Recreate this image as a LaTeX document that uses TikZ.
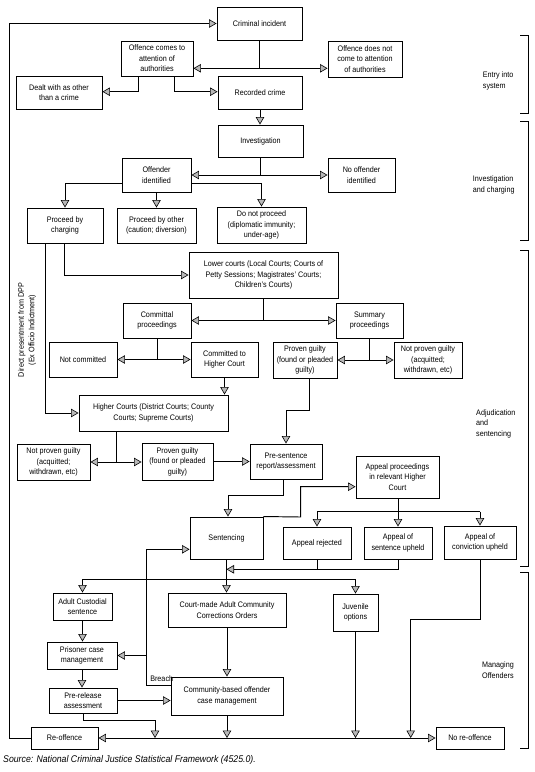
\documentclass[tikz,border=0pt]{standalone}
\usepackage{fontspec}
\setmainfont{Liberation Sans}[FakeStretch=0.9]
\usetikzlibrary{arrows.meta}
\newcommand\fsz{\fontsize{8}{10.5}\selectfont}
\begin{document}
\begin{tikzpicture}[x=1pt,y=-1pt,
  >={Triangle[length=7.5pt,width=8.5pt,fill=black!28,line width=0.6pt]},
  box/.style={draw,line width=0.95pt,align=center,inner sep=1pt,font=\fsz,text=black},
  ln/.style={line width=0.95pt},
  arr/.style={ln,->},
  lab/.style={align=left,font=\fsz,inner sep=0pt,text=black},
  brk/.style={line width=0.95pt}]
\useasboundingbox (0,0) rectangle (535,772);
% nodes
\node[box,minimum width=85pt,minimum height=33pt] (crime) at (259.5,23.5) {Criminal incident};
\node[box,minimum width=72pt,minimum height=35pt] (attn) at (157,58.5) {Offence comes to\\attention of\\authorities};
\node[box,minimum width=74pt,minimum height=36pt] (noattn) at (365,59) {Offence does not\\come to attention\\of authorities};
\node[box,minimum width=86pt,minimum height=33pt] (dealt) at (59,92.5) {Dealt with as other\\than a crime};
\node[box,minimum width=84pt,minimum height=33pt] (recorded) at (260,92.5) {Recorded crime};
\node[box,minimum width=85pt,minimum height=32pt] (invest) at (260.5,141) {Investigation};
\node[box,minimum width=69pt,minimum height=34pt] (ident) at (156.5,175) {Offender\\identified};
\node[box,minimum width=67pt,minimum height=34pt] (noident) at (361.5,175) {No offender\\identified};
\node[box,minimum width=76pt,minimum height=35pt] (charge) at (65,225.5) {Proceed by\\charging};
\node[box,minimum width=79pt,minimum height=35pt] (other) at (156.5,225.5) {Proceed by other\\(caution; diversion)};
\node[box,minimum width=89pt,minimum height=36pt] (notproc) at (261.5,225) {Do not proceed\\(diplomatic immunity;\\under-age)};
\node[box,minimum width=149pt,minimum height=46pt] (lower) at (263.5,275) {Lower courts (Local Courts; Courts of\\Petty Sessions; Magistrates' Courts;\\Children's Courts)};
\node[box,minimum width=68pt,minimum height=35pt] (committal) at (157,320.5) {Committal\\proceedings};
\node[box,minimum width=67pt,minimum height=35pt] (summary) at (369.5,320.5) {Summary\\proceedings};
\node[box,minimum width=68pt,minimum height=35pt] (notcomm) at (83,359.5) {Not committed};
\node[box,minimum width=67pt,minimum height=35pt] (comm) at (224.5,359.5) {Committed to\\Higher Court};
\node[box,minimum width=64pt,minimum height=36pt] (provenL) at (305,360) {Proven guilty\\(found or pleaded\\guilty)};
\node[box,minimum width=68pt,minimum height=36pt] (notprovenL) at (428,360) {Not proven guilty\\(acquitted;\\withdrawn, etc)};
\node[box,minimum width=149pt,minimum height=36pt] (higher) at (153.5,413) {Higher Courts (District Courts; County\\Courts; Supreme Courts)};
\node[box,minimum width=73pt,minimum height=36pt] (notprovenH) at (53.5,462) {Not proven guilty\\(acquitted;\\withdrawn, etc)};
\node[box,minimum width=71pt,minimum height=37pt] (provenH) at (177.5,461.5) {Proven guilty\\(found or pleaded\\guilty)};
\node[box,minimum width=72pt,minimum height=35pt] (present) at (286,461.5) {Pre-sentence\\report/assessment};
\node[box,minimum width=83pt,minimum height=42pt] (appeal) at (397.5,477) {Appeal proceedings\\in relevant Higher\\Court};
\node[box,minimum width=73pt,minimum height=42pt] (sentencing) at (226.5,538) {Sentencing};
\node[box,minimum width=68pt,minimum height=32pt] (rejected) at (317,543) {Appeal rejected};
\node[box,minimum width=68pt,minimum height=32pt] (sentup) at (398,543) {Appeal of\\sentence upheld};
\node[box,minimum width=72pt,minimum height=33pt] (convup) at (480,542.5) {Appeal of\\conviction upheld};
\node[box,minimum width=59pt,minimum height=27pt] (custodial) at (82.5,606.5) {Adult Custodial\\sentence};
\node[box,minimum width=118pt,minimum height=34pt] (cco) at (227,610) {Court-made Adult Community\\Corrections Orders};
\node[box,minimum width=45pt,minimum height=37pt] (juvenile) at (355.5,612.5) {Juvenile\\options};
\node[box,minimum width=70pt,minimum height=27pt] (prisoner) at (82,655.5) {Prisoner case\\management};
\node[box,minimum width=68pt,minimum height=25pt] (prerelease) at (83,700.5) {Pre-release\\assessment};
\node[box,minimum width=112pt,minimum height=38pt] (community) at (227,696) {Community-based offender\\case management};
\node[box,minimum width=67pt,minimum height=22pt] (reoff) at (64.5,738) {Re-offence};
\node[box,minimum width=68pt,minimum height=22pt] (noreoff) at (470,738) {No re-offence};
% side labels
\node[lab,rotate=90,align=center] (dpp) at (27,330) {Direct presentment from DPP\\(Ex Officio Indictment)};
\node[lab,anchor=west] (entry) at (482.7,81) {Entry into\\system};
\node[lab,anchor=west] (invlab) at (472.7,185) {Investigation\\and charging};
\node[lab,anchor=west] (adjlab) at (476,423.5) {Adjudication\\and\\sentencing};
\node[lab,anchor=west] (manlab) at (482,670) {Managing\\Offenders};
\node[lab,anchor=west,font=\fontsize{9.7}{11}\selectfont\itshape] (source) at (3,760) {Source: National Criminal Justice Statistical Framework (4525.0).};
% brackets
\draw[brk] (520,35) -- (528,35) -- (528,113.3) -- (520,113.3);
\draw[brk] (520,121) -- (528,121) -- (528,240) -- (520,240);
\draw[brk] (520,250) -- (528,250) -- (528,566.7) -- (520,566.7);
\draw[brk] (520,572.7) -- (528,572.7) -- (528,748.3) -- (520,748.3);
% connectors
\coordinate (j1) at (259.5,68.3);
\draw[ln] (crime.south) -- (j1);
\draw[arr] (j1) -- (j1 -| attn.east);
\draw[arr] (j1) -- (j1 -| noattn.west);
\coordinate (a1) at (138.3,91.7);
\draw[arr] (attn.south -| a1) -- (a1) -- (dealt.east |- a1);
\coordinate (a2) at (174,91.7);
\draw[arr] (attn.south -| a2) -- (a2) -- (recorded.west |- a2);
\draw[arr] (recorded.south) -- (recorded.south |- invest.north);
\coordinate (j2) at (260.5,175);
\draw[ln] (invest.south) -- (j2);
\draw[arr] (j2) -- (j2 -| ident.east);
\draw[arr] (j2) -- (j2 -| noident.west);
\coordinate (b1) at (65,183.3);
\coordinate (b2) at (261.5,183.3);
\draw[arr] (ident.west |- b1) -- (b1) -- (charge.north);
\draw[arr] (ident.east |- b2) -- (b2) -- (notproc.north);
\draw[arr] (ident.south) -- (other.north);
\coordinate (c1) at (45.7,413);
\coordinate (c2) at (64.3,275);
\draw[arr] (charge.south -| c1) -- (c1) -- (higher.west |- c1);
\draw[arr] (charge.south -| c2) -- (c2) -- (lower.west |- c2);
\coordinate (j3) at (263.5,320.5);
\draw[ln] (lower.south) -- (j3);
\draw[arr] (j3) -- (j3 -| committal.east);
\draw[arr] (j3) -- (j3 -| summary.west);
\coordinate (j4) at (157,359.5);
\draw[ln] (committal.south) -- (j4);
\draw[arr] (j4) -- (j4 -| notcomm.east);
\draw[arr] (j4) -- (j4 -| comm.west);
\coordinate (j5) at (369.5,360);
\draw[ln] (summary.south) -- (j5);
\draw[arr] (j5) -- (j5 -| provenL.east);
\draw[arr] (j5) -- (j5 -| notprovenL.west);
\draw[arr] (comm.south) -- (comm.south |- higher.north);
\coordinate (j6) at (116.7,462);
\draw[ln] (higher.south -| j6) -- (j6);
\draw[arr] (j6) -- (j6 -| notprovenH.east);
\draw[arr] (j6) -- (j6 -| provenH.west);
\draw[arr] (provenH.east) -- (present.west);
\coordinate (d1) at (309,410);
\coordinate (d2) at (286,410);
\draw[arr] (provenL.south -| d1) -- (d1) -- (d2) -- (present.north);
\coordinate (e1) at (283.3,495);
\coordinate (e2) at (228,495);
\draw[arr] (present.south -| e1) -- (e1) -- (e2) -- (sentencing.north -| e2);
\coordinate (f1) at (300.7,517);
\coordinate (f2) at (300.7,486.7);
\draw[arr] (sentencing.north east) -- (f1) -- (f2) -- (appeal.west |- f2);
\coordinate (g1) at (398,511.7);
\draw[ln] (appeal.south -| g1) -- (g1);
\draw[ln] (rejected.north |- g1) -- (convup.north |- g1);
\draw[arr] (rejected.north |- g1) -- (rejected.north);
\draw[arr] (g1) -- (sentup.north);
\draw[arr] (convup.north |- g1) -- (convup.north);
\coordinate (h1) at (398,569.3);
\coordinate (h2) at (226.5,569.3);
\draw[ln] (rejected.south) -- (rejected.south |- h1);
\draw[arr] (sentup.south) -- (h1) -- (h2);
\coordinate (k1) at (226.5,579.3);
\draw[ln] (sentencing.south) -- (k1);
\draw[ln] (custodial.north |- k1) -- (juvenile.north |- k1);
\draw[arr] (custodial.north |- k1) -- (custodial.north);
\draw[arr] (k1) -- (k1 |- cco.north);
\draw[arr] (juvenile.north |- k1) -- (juvenile.north);
\draw[arr] (custodial.south) -- (custodial.south |- prisoner.north);
\draw[arr] (prisoner.south) -- (prisoner.south |- prerelease.north);
\draw[arr] (cco.south) -- (community.north);
\coordinate (m1) at (146,685);
\coordinate (m2) at (146,549.3);
\coordinate (m3) at (146,655.5);
\draw[arr] (community.west |- m1) -- (m1) -- (m2) -- (sentencing.west |- m2);
\draw[arr] (m3) -- (prisoner.east |- m3);
\node[lab] (breach) at (161.7,678.5) {Breach};
\draw[arr] (prerelease.east) -- (community.west |- prerelease.east);
\coordinate (bus) at (0,738);
\coordinate (n1) at (83,720);
\coordinate (n2) at (155,720);
\draw[arr] (prerelease.south -| n1) -- (n1) -- (n2) -- (n2 |- bus);
\draw[arr] (community.south) -- (community.south |- bus);
\draw[arr] (juvenile.south) -- (juvenile.south |- bus);
\coordinate (p1) at (480.7,619.3);
\coordinate (p2) at (410.7,619.3);
\draw[arr] (convup.south -| p1) -- (p1) -- (p2) -- (p2 |- bus);
\draw[ln,<->] (reoff.east) -- (noreoff.west);
\coordinate (q1) at (9.3,738);
\coordinate (q2) at (9.3,23.5);
\draw[arr] (reoff.west) -- (q1) -- (q2) -- (crime.west);
\end{tikzpicture}
\end{document}
